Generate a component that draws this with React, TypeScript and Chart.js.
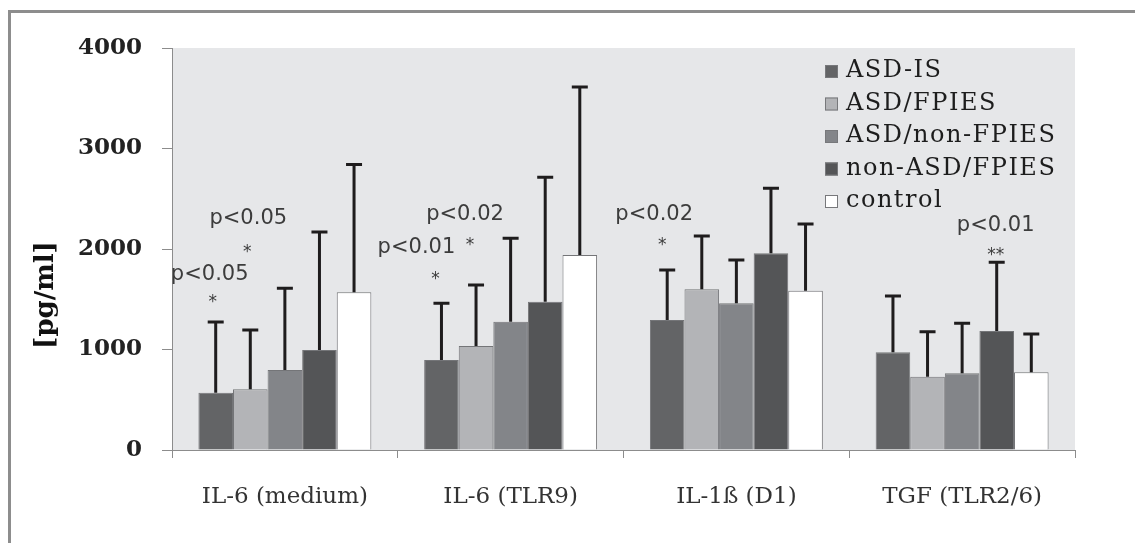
import React, { useEffect, useRef } from "react";
import { Chart, registerables } from "chart.js";

Chart.register(...registerables);

// ---- data ----
const categories = ["IL-6 (medium)", "IL-6 (TLR9)", "IL-1ß (D1)", "TGF (TLR2/6)"];
const seriesNames = ["ASD-IS", "ASD/FPIES", "ASD/non-FPIES", "non-ASD/FPIES", "control"];

const asdIs = [570, 895, 1294, 972];
const asdFpies = [604, 1035, 1599, 730];
const asdNonFpies = [796, 1277, 1459, 763];
const nonAsdFpies = [995, 1476, 1957, 1184];
const control = [1569, 1940, 1585, 773];

// upper ends of the error bars (mean + SD)
const asdIsUpper = [1274, 1460, 1791, 1532];
const asdFpiesUpper = [1194, 1642, 2129, 1177];
const asdNonFpiesUpper = [1610, 2106, 1890, 1260];
const nonAsdFpiesUpper = [2170, 2713, 2604, 1868];
const controlUpper = [2840, 3612, 2249, 1154];

const yTicks = [0, 1000, 2000, 3000, 4000];

// significance labels: category index, series index, text, value level
const annCategory = [0, 0, 0, 0, 1, 1, 1, 1, 2, 2, 3, 3];
const annSeries = [0, 0, 1, 1, 0, 0, 1, 1, 0, 0, 3, 3];
const annText = ["p<0.05", "*", "p<0.05", "*", "p<0.01", "*", "p<0.02", "*", "p<0.02", "*", "p<0.01", "**"];
const annLevel = [1771, 1522, 2328, 2020, 2040, 1751, 2368, 2090, 2368, 2090, 2250, 1990];

// ---- styles ----
const seriesValues = [asdIs, asdFpies, asdNonFpies, nonAsdFpies, control];
const seriesUpper = [asdIsUpper, asdFpiesUpper, asdNonFpiesUpper, nonAsdFpiesUpper, controlUpper];
const colors = ["#636466", "#b3b4b7", "#838589", "#545557", "#ffffff"];
const annShift = [-6, -3, -2, -3, -25, -6, -11, -6, -13, -5, -1, -1];

const W = 1135;
const H = 535;

export default function App() {
  const ref = useRef<HTMLCanvasElement>(null);

  useEffect(() => {
    document.body.style.overflow = "hidden";
    const canvas = ref.current!;

    const bgPlugin = {
      id: "bg",
      beforeDraw(chart: any) {
        const { ctx, chartArea: a } = chart;
        ctx.save();
        ctx.fillStyle = "#e6e7e9";
        ctx.fillRect(a.left, a.top, a.right - a.left, a.bottom - a.top);
        ctx.restore();
      },
    };

    const errPlugin = {
      id: "err",
      afterDatasetsDraw(chart: any) {
        const { ctx } = chart;
        const ys = chart.scales.y;
        ctx.save();
        ctx.strokeStyle = "#1e1c1d";
        ctx.lineWidth = 3;
        seriesUpper.forEach((ups, i) => {
          const meta = chart.getDatasetMeta(i);
          meta.data.forEach((el: any, j: number) => {
            const yTop = ys.getPixelForValue(ups[j]);
            ctx.beginPath();
            ctx.moveTo(el.x, el.y);
            ctx.lineTo(el.x, yTop);
            ctx.moveTo(el.x - 8, yTop);
            ctx.lineTo(el.x + 8, yTop);
            ctx.stroke();
          });
        });
        ctx.restore();
      },
    };

    const annPlugin = {
      id: "ann",
      afterDatasetsDraw(chart: any) {
        const { ctx } = chart;
        const ys = chart.scales.y;
        ctx.save();
        const fs = 21;
        ctx.fillStyle = "#3c3c3c";
        ctx.textAlign = "center";
        ctx.textBaseline = "alphabetic";
        annText.forEach((t, k) => {
          const el = chart.getDatasetMeta(annSeries[k]).data[annCategory[k]];
          const x = el.x + annShift[k];
          const yc = ys.getPixelForValue(annLevel[k]);
          const isStar = t.startsWith("*");
          const size = isStar ? 17 : fs;
          ctx.font = `${size}px "DejaVu Sans"`;
          const base = yc + (isStar ? 0.6 : 0.36) * size;
          ctx.fillText(t, x, base);
        });
        ctx.restore();
      },
    };

    const legendPlugin = {
      id: "customLegend",
      afterDraw(chart: any) {
        const { ctx, chartArea: a } = chart;
        ctx.save();
        const boxX = a.right - 250;
        const baseTop = a.top + 29;
        ctx.font = `24px "DejaVu Serif"`;
        (ctx as any).letterSpacing = "1.5px";
        ctx.textAlign = "left";
        ctx.textBaseline = "alphabetic";
        seriesNames.forEach((name, i) => {
          const base = baseTop + i * 32.5;
          ctx.fillStyle = colors[i];
          ctx.fillRect(boxX, base - 12, 13, 13);
          ctx.strokeStyle = "#77787b";
          ctx.lineWidth = 1;
          ctx.strokeRect(boxX + 0.5, base - 11.5, 12, 12);
          ctx.fillStyle = "#1d1d1d";
          ctx.fillText(name, boxX + 21, base);
        });
        ctx.restore();
      },
    };

    const titlePlugin = {
      id: "ytitle",
      afterDraw(chart: any) {
        const { ctx, chartArea: a } = chart;
        ctx.save();
        ctx.translate(38, a.top + 247);
        ctx.rotate(-Math.PI / 2);
        ctx.font = `bold 26px "DejaVu Serif"`;
        ctx.fillStyle = "#111";
        ctx.textAlign = "center";
        ctx.textBaseline = "middle";
        ctx.fillText("[pg/ml]", 0, 0);
        ctx.restore();
      },
    };

    const chart = new Chart(canvas, {
      type: "bar",
      data: {
        labels: categories,
        datasets: seriesValues.map((v, i) => ({
          label: seriesNames[i],
          data: v,
          backgroundColor: colors[i],
          borderColor: "#747578",
          borderWidth: 1,
          categoryPercentage: 0.766,
          barPercentage: 1,
        })),
      },
      options: {
        animation: false,
        responsive: false,
        maintainAspectRatio: false,
        layout: { padding: { top: 40, right: 68, left: 0, bottom: 0 } },
        plugins: { legend: { display: false }, tooltip: { enabled: false } },
        scales: {
          x: {
            grid: {
              offset: true,
              drawOnChartArea: false,
              tickLength: 8,
              color: "#8c8c8c",
              lineWidth: 1,
            },
            border: { color: "#8c8c8c", width: 1 },
            ticks: {
              font: { family: "DejaVu Serif", size: 23 },
              color: "#333",
              padding: 25,
            },
            afterFit: (s: any) => {
              s.height = 93;
            },
          },
          y: {
            min: 0,
            max: 4000,
            afterBuildTicks: (s: any) => {
              s.ticks = yTicks.map((v) => ({ value: v }));
            },
            grid: {
              drawOnChartArea: false,
              tickLength: 10,
              color: "#8c8c8c",
            },
            border: { color: "#8c8c8c", width: 1 },
            ticks: {
              font: { family: "DejaVu Serif", size: 23, weight: "bold" },
              color: "#222",
              padding: 20,
              callback: (v: any) => String(v),
            },
            afterFit: (s: any) => {
              s.width = 164;
            },
          },
        },
      },
      plugins: [bgPlugin, errPlugin, annPlugin, legendPlugin, titlePlugin],
    } as any);

    return () => chart.destroy();
  }, []);

  return (
    <div style={{ position: "relative", width: W, height: H }}>
      <canvas
        ref={ref}
        width={W}
        height={H}
        style={{ position: "absolute", left: 0, top: 0, width: W, height: H }}
      />
      <div
        style={{
          position: "absolute",
          left: 0,
          top: 2,
          width: W,
          height: 3,
          background: "#8d8d8d",
        }}
      />
      <div
        style={{
          position: "absolute",
          left: 0,
          top: 2,
          width: 3,
          height: H - 2,
          background: "#8d8d8d",
        }}
      />
    </div>
  );
}
